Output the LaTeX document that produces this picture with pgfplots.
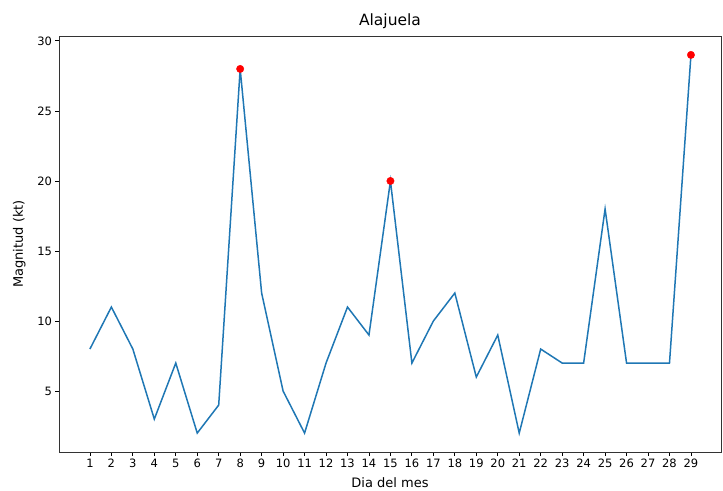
\documentclass[border=0pt]{standalone}
\usepackage{pgfplots}
\pgfplotsset{compat=1.18}
\usepackage{fontspec}
\setmainfont{DejaVu Sans}
\usetikzlibrary{calc}
\definecolor{mplblue}{HTML}{1F77B4}
\begin{document}
\begin{tikzpicture}
\begin{axis}[
  name=ax,
  at={(0,0)}, anchor=south west,
  scale only axis,
  width=662bp, height=416bp,
  xmin=-0.44, xmax=30.4,
  ymin=0.65, ymax=30.35,
  xtick={1,...,29},
  ytick={5,10,15,20,25,30},
  tick align=outside,
  major tick length=3.5bp,
  tick style={black, line width=0.8bp},
  axis line style={line width=0.8bp, black!80},
  xtick pos=bottom, ytick pos=left,
  /pgf/number format/assume math mode=true,
  ticklabel style={font=\fontsize{11.5bp}{13bp}\selectfont},
  xlabel={Dia del mes},
  ylabel={Magnitud (kt)},
  label style={font=\fontsize{13bp}{15bp}\selectfont},
  xlabel style={yshift=-3bp},
  ylabel style={yshift=5bp},
  title={Alajuela},
  title style={font=\fontsize{15.5bp}{18bp}\selectfont, yshift=-2bp},
  clip=false,
]
\addplot[mplblue, line width=1.5bp] coordinates {
(1,8) (2,11) (3,8) (4,3) (5,7) (6,2) (7,4) (8,28) (9,12) (10,5)
(11,2) (12,7) (13,11) (14,9) (15,20) (16,7) (17,10) (18,12) (19,6) (20,9)
(21,2) (22,8) (23,7) (24,7) (25,18) (26,7) (27,7) (28,7) (29,29)
};
\addplot[only marks, mark=*, mark size=3.7bp, red, mark options={draw=red, fill=red}] coordinates {
(8,28) (15,20) (29,29)
};
\end{axis}
\pgfresetboundingbox
\path ($(ax.south west)+(-59bp,-39bp)$) rectangle ($(ax.north east)+(2bp,36bp)$);
\end{tikzpicture}
\end{document}
